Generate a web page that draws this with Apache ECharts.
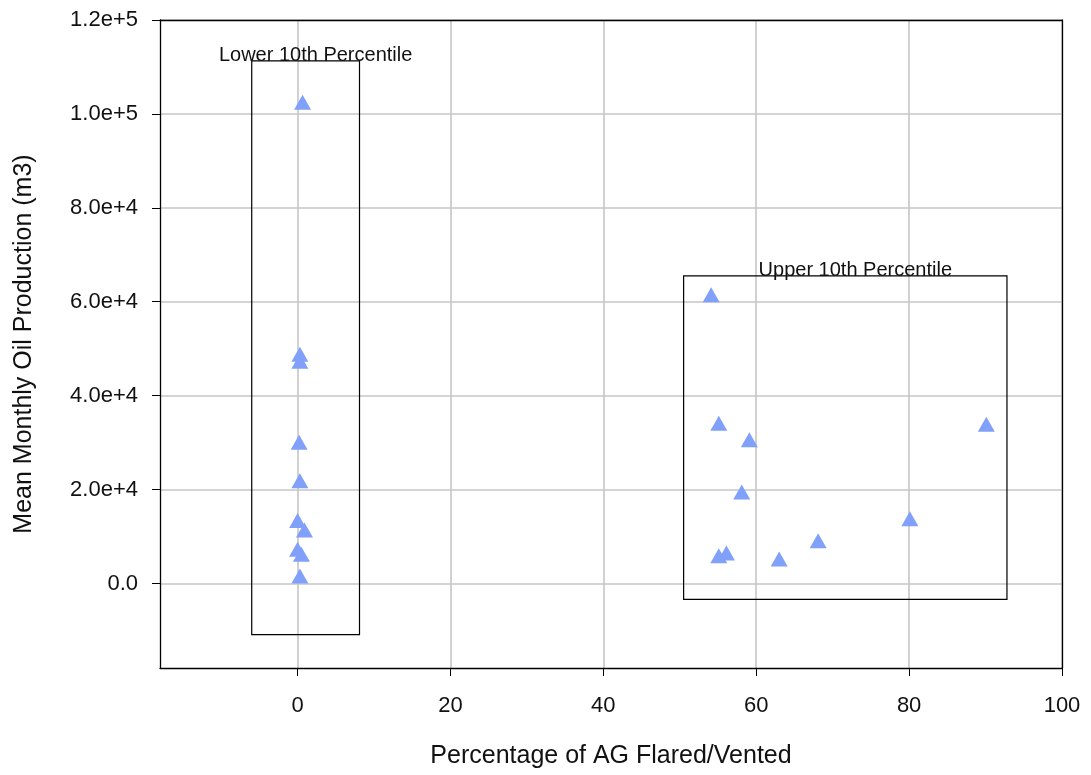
<!DOCTYPE html>
<html>
<head>
<meta charset="utf-8">
<script src="https://cdn.jsdelivr.net/npm/echarts@6/dist/echarts.min.js"></script>
<style>
  html, body { margin: 0; padding: 0; background: #fff; }
  #chart { width: 1091px; height: 775px; }
</style>
</head>
<body>
<div id="chart"></div>
<script>
// lower 10th percentile wells
const lowerX = [0.65, 0.3, 0.3, 0.2, 0.3, 0.0, 0.9, 0.0, 0.5, 0.3];
const lowerY = [102500, 48800, 47300, 30100, 21900, 13400, 11400, 7300, 6200, 1600];
// upper 10th percentile wells
const upperX = [54.1, 55.1, 59.1, 58.1, 90.1, 80.1, 68.1, 63.0, 56.1, 55.1];
const upperY = [61500, 34100, 30600, 19500, 33900, 13800, 9100, 5200, 6500, 5900];
// annotation boxes [x0, y0, x1, y1] in data units
const lowerBox = [-6.0, 111300, 8.1, -10900];
const upperBox = [50.5, 65500, 92.8, -3400];
const boxNames = ["Lower 10th Percentile", "Upper 10th Percentile"];
// axis ticks
const xTicks = [0, 20, 40, 60, 80, 100];
const yTicks = [0, 20000, 40000, 60000, 80000, 100000, 120000];

function sci(v) {
  if (v === 0) return "0.0";
  const e = Math.floor(Math.log10(Math.abs(v)));
  return (v / Math.pow(10, e)).toFixed(1) + "e+" + e;
}

const chart = echarts.init(document.getElementById("chart"));
const font = "Liberation Sans, Arial, sans-serif";
const pts = (xs, ys) => xs.map((x, i) => [x, ys[i]]);
const box = (b, name) => [{ name: name, coord: [b[0], b[1]] }, { coord: [b[2], b[3]] }];
const blackLine = { show: true, onZero: false, lineStyle: { color: "#000", width: 1.3 } };
// plain axes that only draw the top and right edges of the frame
const frameAxis = (pos, min, max) => ({
  type: "value", position: pos, min: min, max: max, z: 5,
  axisLine: blackLine, axisTick: { show: false }, axisLabel: { show: false }, splitLine: { show: false }
});

chart.setOption({
  animation: false,
  grid: { left: 160, right: 29, top: 20, bottom: 107 },
  xAxis: [
    {
      type: "value",
      min: -18,
      max: 100,
      name: "Percentage of AG Flared/Vented",
      nameLocation: "middle",
      nameGap: 76,
      nameTextStyle: { fontSize: 25, color: "#111", fontFamily: font },
      axisLine: blackLine,
      axisTick: { show: true, length: 8, customValues: xTicks, lineStyle: { color: "#000" } },
      axisLabel: { customValues: xTicks, margin: 27, fontSize: 22, color: "#111", fontFamily: font },
      splitLine: { show: true, lineStyle: { color: "#c6c6c6", width: 1.6 } }
    },
    frameAxis("top", -18, 100)
  ],
  yAxis: [
    {
      type: "value",
      min: -18000,
      max: 120000,
      name: "Mean Monthly Oil Production (m3)",
      nameLocation: "middle",
      nameGap: 123,
      nameTextStyle: { fontSize: 25, color: "#111", fontFamily: font },
      axisLine: blackLine,
      axisTick: { show: true, length: 8, customValues: yTicks, lineStyle: { color: "#000" } },
      axisLabel: { customValues: yTicks, margin: 22, fontSize: 22, color: "#111", fontFamily: font, formatter: sci },
      splitLine: { show: true, lineStyle: { color: "#c6c6c6", width: 1.6 } }
    },
    frameAxis("right", -18000, 120000)
  ],
  series: [
    {
      type: "scatter",
      symbol: "triangle",
      symbolSize: [17, 15],
      itemStyle: { color: "#80a0fa", opacity: 1 },
      data: pts(lowerX, lowerY).concat(pts(upperX, upperY)),
      markArea: {
        silent: true,
        itemStyle: { color: "rgba(0,0,0,0)", borderColor: "#000", borderWidth: 1.2 },
        label: { show: true, position: "top", distance: 0, offset: [10, 5], fontSize: 20, color: "#111", fontFamily: font },
        data: [box(lowerBox, boxNames[0]), box(upperBox, boxNames[1])]
      }
    }
  ]
});
</script>
</body>
</html>
